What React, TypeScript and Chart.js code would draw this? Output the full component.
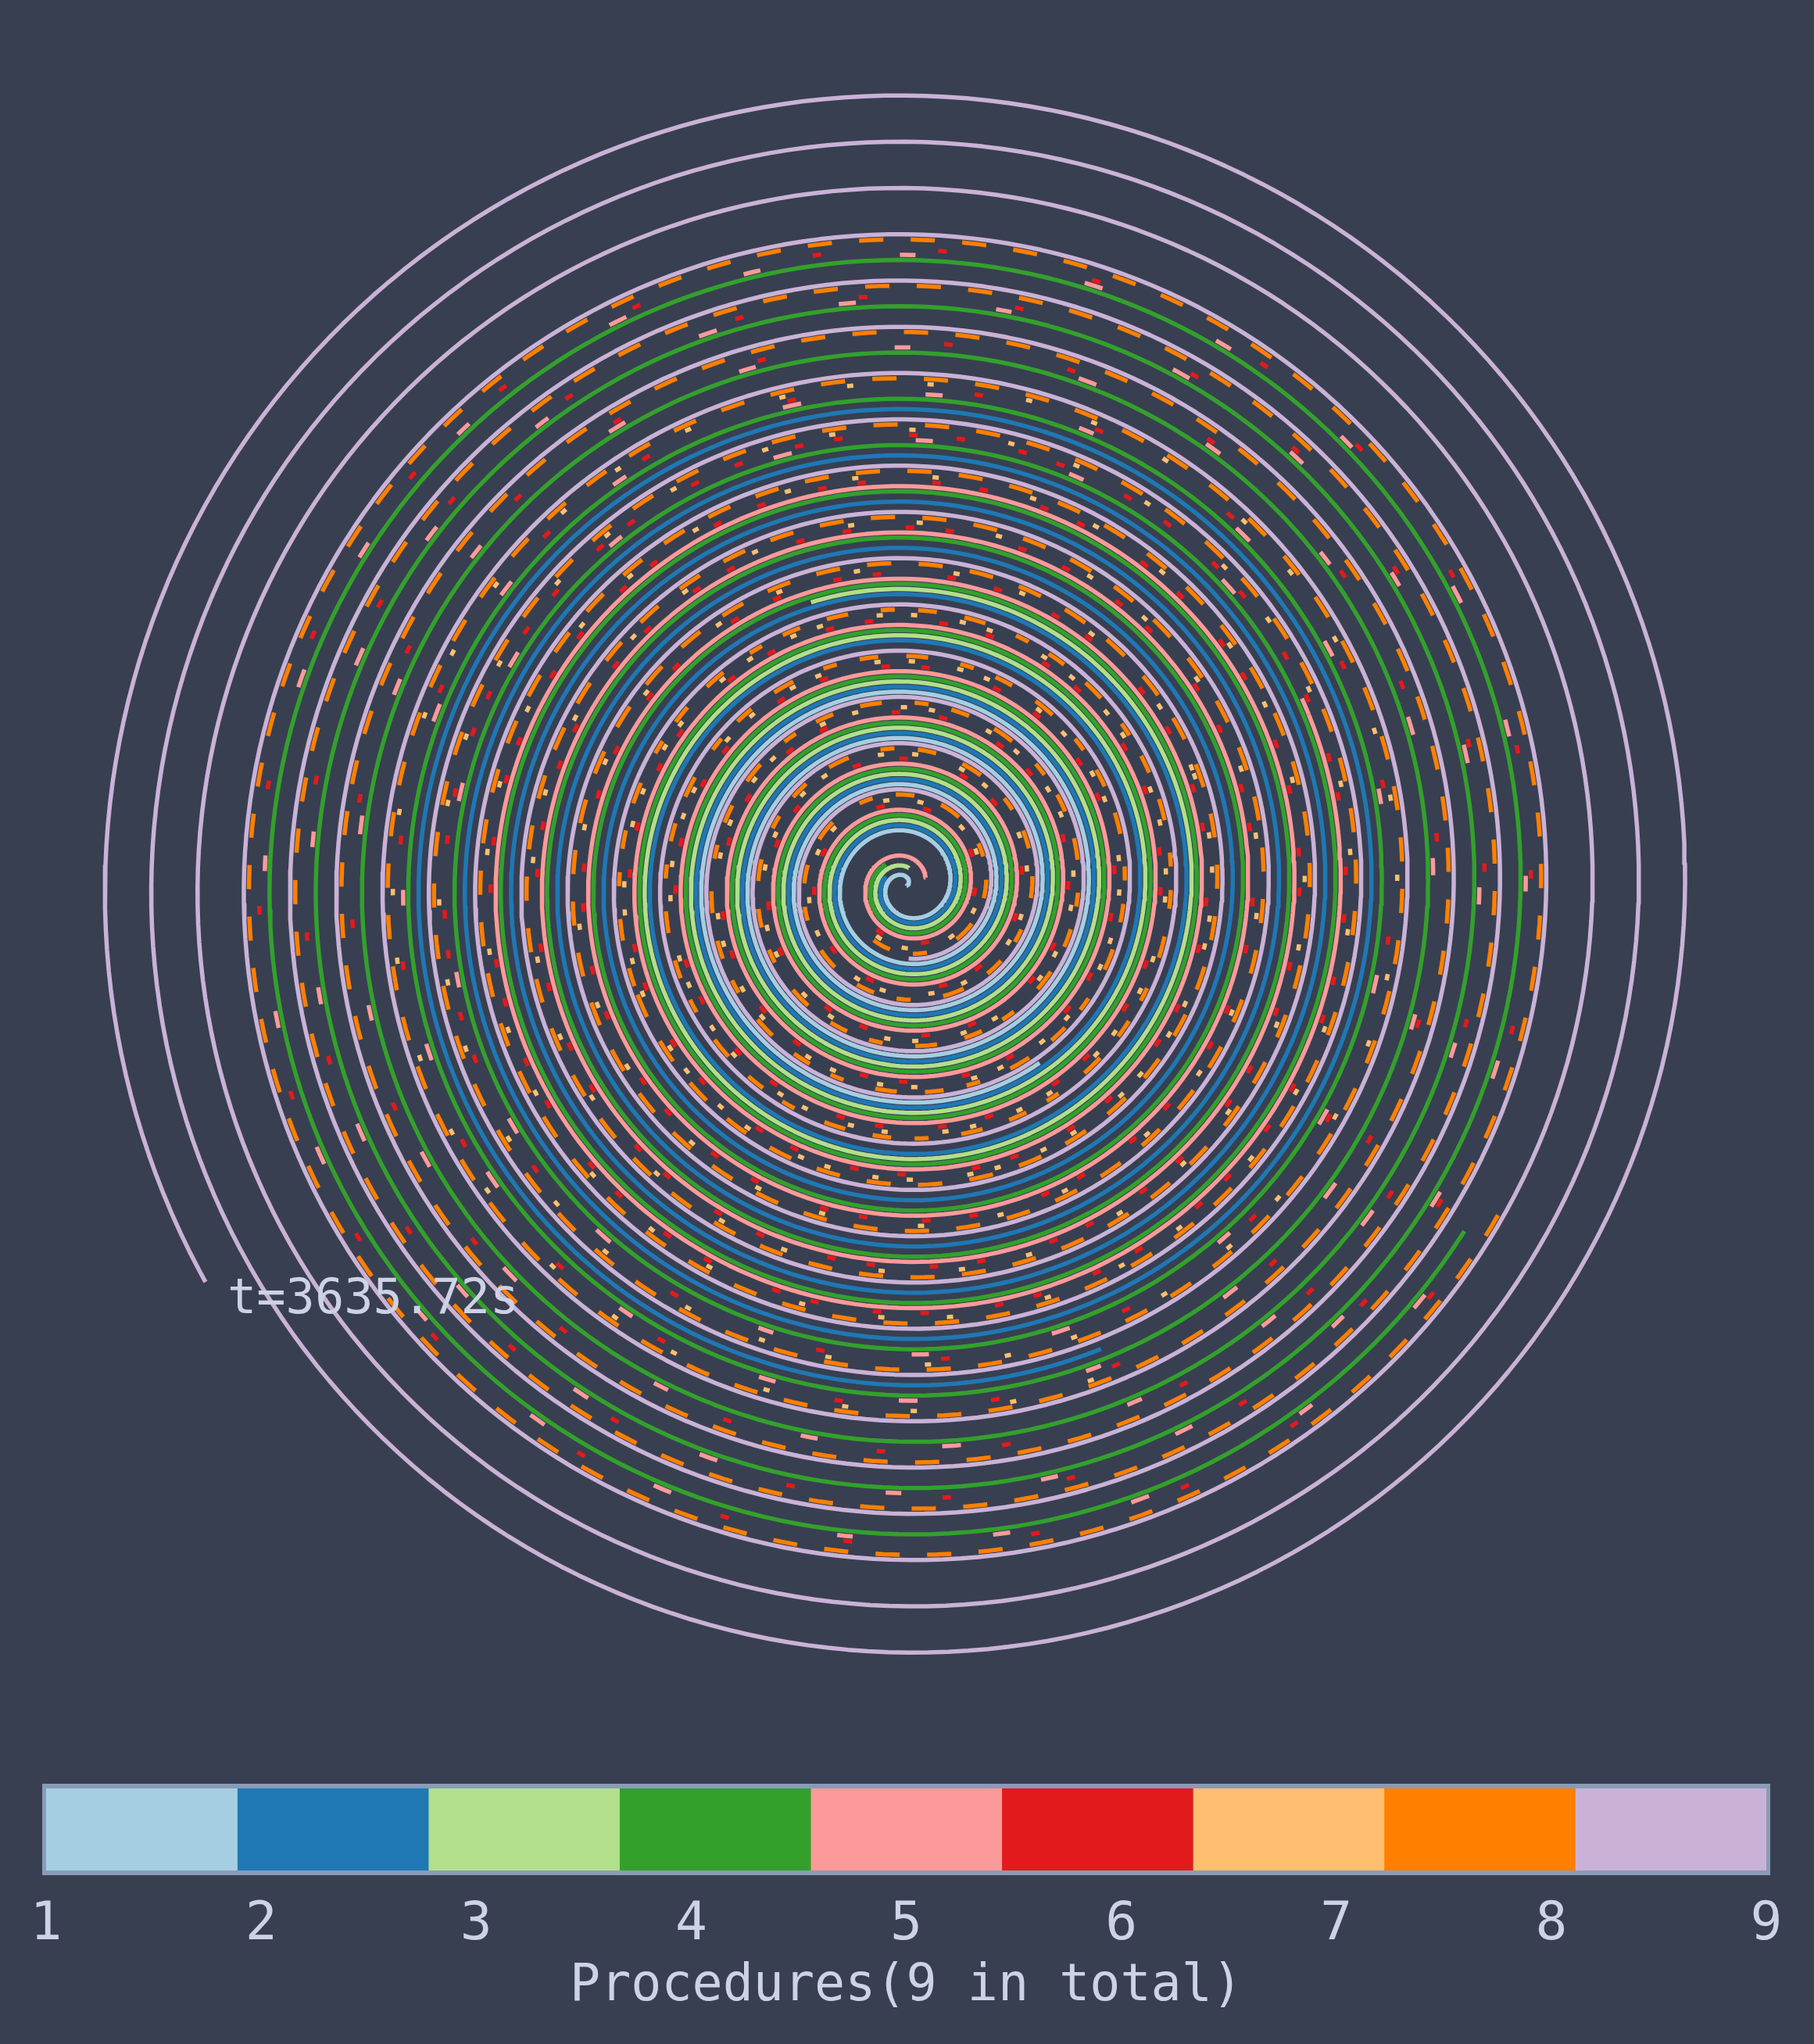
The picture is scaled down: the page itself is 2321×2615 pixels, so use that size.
import { useEffect, useRef } from "react"
import { Chart, registerables } from "chart.js"

Chart.register(...registerables)

// procedures 1..9 (Paired colormap)
const PROCEDURE_LABELS = ["1", "2", "3", "4", "5", "6", "7", "8", "9"]
const PROCEDURE_COLORS = ["#a6cee3", "#1f78b4", "#b2df8a", "#33a02c", "#fb9a99", "#e31a1c", "#fdbf6f", "#ff7f00", "#cab2d6"]
const TOTAL_TIME = 3635.72

// continuous runs of each procedure, [start s, end s]
const p1Runs = [[0, 1054]]
const p2Runs = [[83, 2366]]
const p3Runs = [[37, 1373]]
const p4Runs = [[68, 3048]]
const p5Runs = [[0, 1981]]
const p9Runs = [[152, 3635.72]]

// intermittent (pulsed) windows, [start s, end s]
const p5Pulses = [[1981, 3048]]
const p6Pulses = [[130, 2090], [2090, 3045]]
const p7Pulses = [[132, 1320], [1320, 2366]]
const p8Pulses = [[132, 1210], [1210, 3050]]

const RUNS = [p1Runs, p2Runs, p3Runs, p4Runs, p5Runs, [], [], [], p9Runs]
const PULSES = [[], [], [], [], p5Pulses, p6Pulses, p7Pulses, p8Pulses, []]

// look of the pulsed windows (one dash pattern per window)
const PULSE_DASH: Record<number, number[][]> = {
  4: [[22, 160, 24, 220, 20, 180]],
  5: [[11, 50, 11, 85, 11, 40, 11, 70], [11, 150, 11, 230, 11, 190]],
  6: [[8, 28, 8, 55, 8, 36, 8, 70], [8, 80, 8, 120, 8, 95]],
  7: [[24, 30, 18, 42, 28, 36], [31, 35]],
}

const BG = "#383f51"
const TEXT = "#cdd2e6"
const FRAME = "#8a9bb8"
const MONO = "'DejaVu Sans Mono', 'Liberation Mono', monospace"

// spiral layout
const W = 2321
const H = 2240
const CX = 1160
const CY = 1133
const PITCH = 59.2
const THETA0 = (23 * Math.PI) / 180
const SEC_PER_TURN = TOTAL_TIME / 16.518
const STEP = SEC_PER_TURN / 240
const LINE_W = 5.5

function toPoint(t: number, k: number) {
  const u = t / SEC_PER_TURN
  const a = THETA0 + 2 * Math.PI * u
  const r = PITCH * (u + k / 9)
  return { x: r * Math.cos(a), y: r * Math.sin(a) }
}

function trace(start: number, end: number, k: number) {
  const pts = []
  for (let t = start; t < end - STEP / 2; t += STEP) pts.push(toPoint(t, k))
  pts.push(toPoint(end, k))
  return pts
}

const endLabel = {
  id: "endLabel",
  afterDatasetsDraw(chart: Chart) {
    const { ctx, scales } = chart
    const p = toPoint(TOTAL_TIME, 8)
    const px = scales.x.getPixelForValue(p.x)
    const py = scales.y.getPixelForValue(p.y)
    ctx.save()
    ctx.font = `62px ${MONO}`
    ctx.fillStyle = TEXT
    ctx.textBaseline = "middle"
    ctx.textAlign = "left"
    ctx.fillText(`t=${TOTAL_TIME.toFixed(2)}s`, px + 28, py + 24)
    ctx.restore()
  },
}

const cbFrame = {
  id: "cbFrame",
  beforeDatasetsDraw(chart: Chart) {
    const { ctx, chartArea: a } = chart
    ctx.save()
    ctx.fillStyle = FRAME
    ctx.fillRect(a.left - 5, a.top - 6, a.right - a.left + 10, a.bottom - a.top + 12)
    ctx.restore()
  },
}

function SpiralChart() {
  const chartRef = useRef<HTMLCanvasElement>(null)
  const chartInstance = useRef<Chart | null>(null)

  useEffect(() => {
    if (!chartRef.current) return
    if (chartInstance.current) chartInstance.current.destroy()

    const datasets: any[] = []
    PROCEDURE_COLORS.forEach((color, k) => {
      RUNS[k].forEach(([s, e]) => {
        datasets.push({
          label: PROCEDURE_LABELS[k],
          data: trace(s, e, k),
          borderColor: color,
          borderWidth: LINE_W,
          borderJoinStyle: "round",
          showLine: true,
          pointRadius: 0,
        })
      })
      PULSES[k].forEach(([s, e], j) => {
        datasets.push({
          label: PROCEDURE_LABELS[k],
          data: trace(s, e, k),
          borderColor: color,
          borderWidth: LINE_W,
          borderJoinStyle: "round",
          borderDash: PULSE_DASH[k][j],
          showLine: true,
          pointRadius: 0,
        })
      })
    })

    chartInstance.current = new Chart(chartRef.current, {
      type: "scatter",
      data: { datasets },
      options: {
        animation: false,
        responsive: false,
        devicePixelRatio: 1,
        events: [],
        parsing: false,
        layout: { padding: 0 },
        plugins: { legend: { display: false }, tooltip: { enabled: false } },
        scales: {
          x: { type: "linear", display: false, min: -CX, max: W - CX },
          y: { type: "linear", display: false, min: -(H - CY), max: CY },
        },
      },
      plugins: [endLabel],
    } as any)

    return () => {
      if (chartInstance.current) chartInstance.current.destroy()
    }
  }, [])

  return <canvas ref={chartRef} width={W} height={H} style={{ position: "absolute", left: 0, top: 0 }} />
}

function ColorBar() {
  const chartRef = useRef<HTMLCanvasElement>(null)
  const chartInstance = useRef<Chart | null>(null)

  useEffect(() => {
    if (!chartRef.current) return
    if (chartInstance.current) chartInstance.current.destroy()

    const n = PROCEDURE_LABELS.length
    const span = (n - 1) / n

    chartInstance.current = new Chart(chartRef.current, {
      type: "bar",
      data: {
        labels: [""],
        datasets: PROCEDURE_LABELS.map((label, i) => ({
          label,
          data: [[1 + i * span, 1 + (i + 1) * span]],
          backgroundColor: PROCEDURE_COLORS[i],
          borderWidth: 0,
          grouped: false,
          barPercentage: 1,
          categoryPercentage: 1,
        })),
      },
      options: {
        indexAxis: "y",
        animation: false,
        responsive: false,
        devicePixelRatio: 1,
        events: [],
        layout: { padding: { top: 18, left: 59, right: 61, bottom: 0 } },
        plugins: { legend: { display: false }, tooltip: { enabled: false } },
        scales: {
          x: {
            type: "linear",
            min: 1,
            max: n,
            grid: { display: false },
            border: { display: false },
            ticks: { stepSize: 1, autoSkip: false, maxRotation: 0, color: TEXT, padding: 22, font: { family: MONO, size: 68 } },
            title: { display: true, text: `Procedures(${n} in total)`, color: TEXT, font: { family: MONO, size: 65 }, padding: { top: 0, bottom: 34 } },
            afterFit: (scale: any) => {
              scale.height = 222
            },
          },
          y: { display: false },
        },
      },
      plugins: [cbFrame],
    } as any)

    return () => {
      if (chartInstance.current) chartInstance.current.destroy()
    }
  }, [])

  return <canvas ref={chartRef} width={W} height={345} style={{ position: "absolute", left: 0, top: 2270 }} />
}

export default function App() {
  return (
    <div style={{ position: "absolute", left: 0, top: 0, width: W, height: 2615, background: BG, overflow: "hidden" }}>
      <SpiralChart />
      <ColorBar />
    </div>
  )
}
